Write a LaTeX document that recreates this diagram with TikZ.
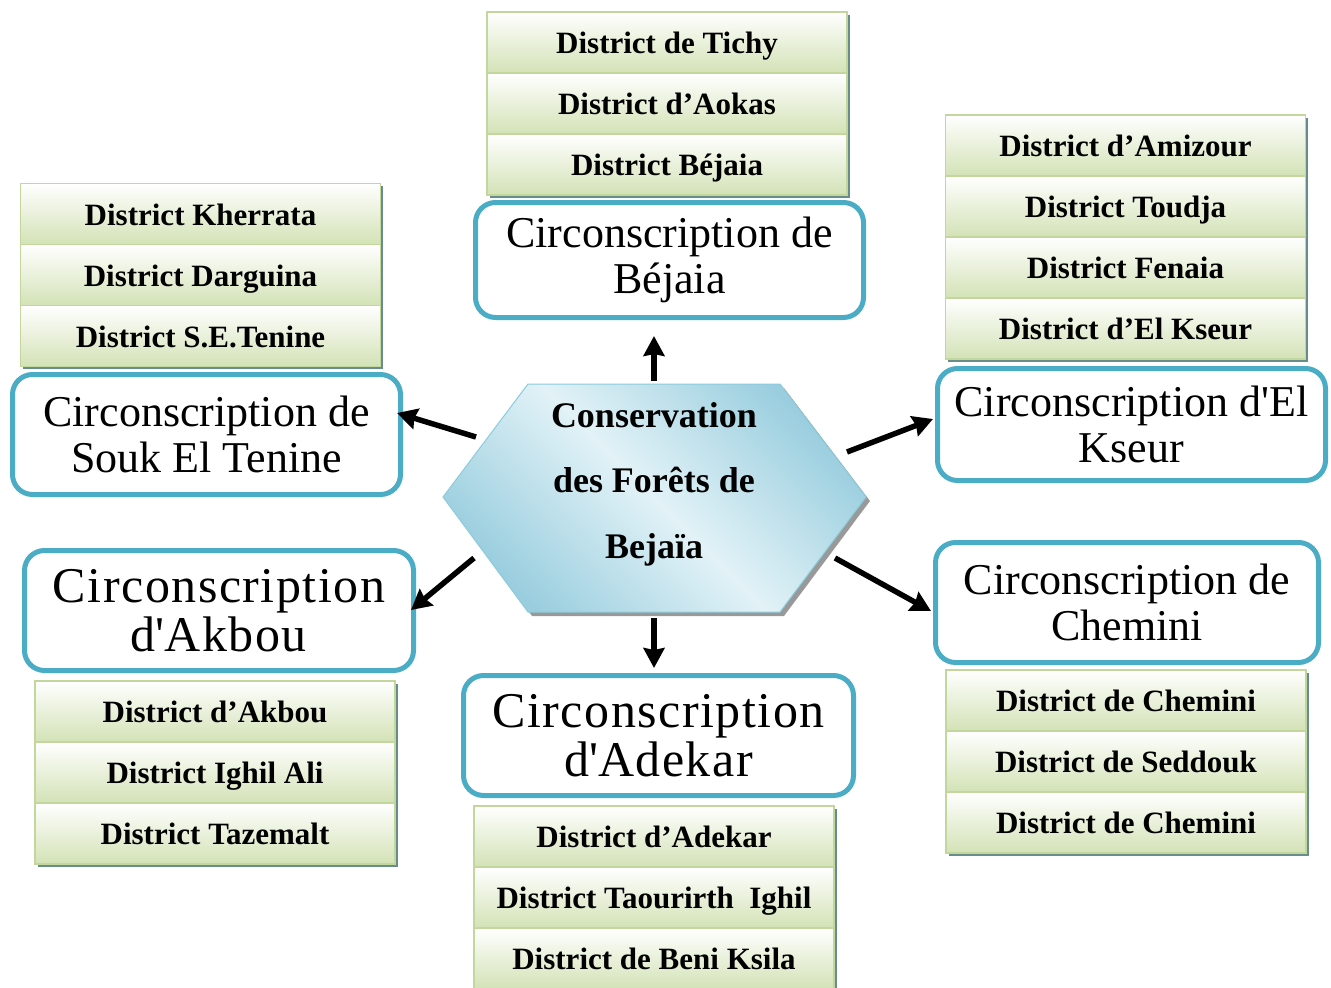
\documentclass[tikz,border=0pt]{standalone}
\usepackage{fontspec}
\setmainfont{Liberation Serif}
\usetikzlibrary{positioning,arrows.meta,shadows}

\definecolor{circblue}{HTML}{4BACC6}
\definecolor{distline}{HTML}{C3D69B}
\definecolor{distfill}{HTML}{D3E2B6}
\definecolor{hexdark}{HTML}{9ACEDF}
\definecolor{hexlight}{HTML}{E2F2F7}
\definecolor{hexline}{HTML}{8CCBDC}

\tikzset{
  district/.style={draw=distline, line width=1.8pt, top color=white, bottom color=distfill,
    minimum width=360pt, minimum height=61pt, inner sep=0pt, outer sep=0pt,
    text height=26pt, text depth=4pt,
    font=\fontsize{31}{31}\selectfont\bfseries,
    drop shadow={shadow xshift=2.5pt, shadow yshift=-2.5pt, fill=black!50!teal, opacity=.6}},
  circ/.style={draw=circblue, line width=5pt, rounded corners=20pt, fill=white,
    minimum width=388pt, minimum height=120pt, align=center, inner sep=0pt,
    font=\fontsize{44}{46}\selectfont},
  wide/.style={font=\fontsize{50}{49}\selectfont\addfontfeature{LetterSpace=3}},
  arrow/.style={-{Stealth[length=20pt,width=21pt,inset=2pt]}, line width=5.5pt},
}

\begin{document}
\begin{tikzpicture}[x=1pt,y=-1pt]
  \useasboundingbox (0,0) rectangle (1331,988);

  % central hexagon
  \fill[black!40, shift={(4,4)}] (443,497) -- (528,384) -- (780,384) -- (866,497) -- (780,612) -- (528,612) -- cycle;
  \shadedraw[draw=hexline, line width=1pt, left color=hexdark, right color=hexdark, middle color=hexlight, shading angle=-45]
    (443,497) -- (528,384) -- (780,384) -- (866,497) -- (780,612) -- (528,612) -- cycle;
  \node[align=center, font=\fontsize{36}{65.5}\selectfont\bfseries] (cons) at (654,484) {Conservation\\des Forêts de\\Bejaïa};

  % circonscriptions
  \node[circ, minimum width=388pt, minimum height=115pt] (bej) at (669.5,260) {Circonscription de\\Béjaia};
  \node[circ, minimum width=388pt, minimum height=120pt] (souk) at (206.5,434.5) {Circonscription de\\Souk El Tenine};
  \node[circ, minimum width=388pt, minimum height=112pt] (kseur) at (1131.5,424.5) {Circonscription d\textquotesingle El\\Kseur};
  \node[circ, minimum width=383pt, minimum height=120pt] (chem) at (1127,602.5) {Circonscription de\\Chemini};
  \node[circ, wide, minimum width=389pt, minimum height=120pt] (akbou) at (219,610.5) {Circonscription\\d\textquotesingle Akbou};
  \node[circ, wide, minimum width=390pt, minimum height=120pt] (adek) at (658.5,735.5) {Circonscription\\d\textquotesingle Adekar};

  % districts
  \node[district] (tichy) at (667,42.5) {District de Tichy};
  \node[district, below=0pt of tichy] (aokas) {District d’Aokas};
  \node[district, below=0pt of aokas] (bejd) {District Béjaia};

  \node[district] (kherrata) at (200.5,214) {District Kherrata};
  \node[district, below=0pt of kherrata] (darguina) {District Darguina};
  \node[district, below=0pt of darguina] (setenine) {District S.E.Tenine};

  \node[district] (amizour) at (1125.5,145.5) {District d’Amizour};
  \node[district, below=0pt of amizour] (toudja) {District Toudja};
  \node[district, below=0pt of toudja] (fenaia) {District Fenaia};
  \node[district, below=0pt of fenaia] (elkseur) {District d’El Kseur};

  \node[district] (akboud) at (215,711.5) {District d’Akbou};
  \node[district, below=0pt of akboud] (ighilali) {District Ighil Ali};
  \node[district, below=0pt of ighilali] (tazemalt) {District Tazemalt};

  \node[district] (adekd) at (654,836.5) {District d’Adekar};
  \node[district, below=0pt of adekd] (taourirth) {District Taourirth~ Ighil};
  \node[district, below=0pt of taourirth] (beniksila) {District de Beni Ksila};

  \node[district] (chemd) at (1126,700.5) {District de Chemini};
  \node[district, below=0pt of chemd] (seddouk) {District de Seddouk};
  \node[district, below=0pt of seddouk] (chemdd) {District de Chemini};

  % arrows
  \coordinate (up0) at (654,381);  \coordinate (up1) at (654,336);
  \coordinate (dn0) at (654,618);  \coordinate (dn1) at (654,668);
  \coordinate (lu0) at (476,437);  \coordinate (lu1) at (397,413);
  \coordinate (ru0) at (847,452);  \coordinate (ru1) at (933,419);
  \coordinate (ld0) at (474,558);  \coordinate (ld1) at (411,610);
  \coordinate (rd0) at (835,558);  \coordinate (rd1) at (931,611);
  \draw[arrow] (up0) -- (up1);
  \draw[arrow] (dn0) -- (dn1);
  \draw[arrow] (lu0) -- (lu1);
  \draw[arrow] (ru0) -- (ru1);
  \draw[arrow] (ld0) -- (ld1);
  \draw[arrow] (rd0) -- (rd1);
\end{tikzpicture}
\end{document}
